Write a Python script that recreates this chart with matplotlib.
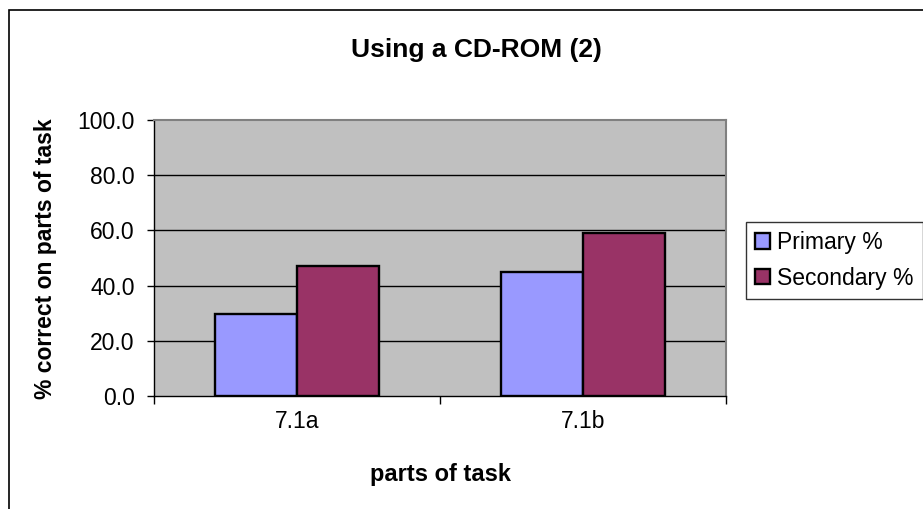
import numpy as np
import matplotlib.pyplot as plt
from matplotlib.patches import Rectangle

plt.rcParams['font.family'] = ['Liberation Sans', 'DejaVu Sans']

categories = ['7.1a', '7.1b']
primary = [29.8, 45.0]
secondary = [47.2, 58.9]
series_names = ['Primary %', 'Secondary %']

fig = plt.figure(figsize=(9.23, 5.09), dpi=100)
W, H = 923, 509
fs = 16.5

# outer chart border (right/bottom edges run off the canvas)
fig.patches.append(Rectangle((9 / W, -0.1), 1.2, 1 - 9.5 / H + 0.1, transform=fig.transFigure,
                             fill=False, edgecolor='black', linewidth=1.2))

ax = fig.add_axes([154 / W, 1 - 396 / H, 572 / W, 276 / H])
ax.set_facecolor('#c0c0c0')

x = np.arange(len(categories))
w = 1 / 3.5
ax.bar(x - w / 2, primary, w, color='#9999ff', edgecolor='black', linewidth=1.7,
       label=series_names[0], zorder=3)
ax.bar(x + w / 2, secondary, w, color='#993366', edgecolor='black', linewidth=1.7,
       label=series_names[1], zorder=3)

ax.set_xlim(-0.5, len(categories) - 0.5)
ax.set_ylim(0, 100)
ax.set_yticks(np.arange(0, 101, 20))
ax.set_yticklabels([f'{v:.1f}' for v in np.arange(0, 101, 20)])
ax.set_xticks(x)
ax.set_xticklabels(categories)
ax.set_xticks(np.arange(-0.5, len(categories), 1), minor=True)
ax.tick_params(axis='x', which='major', length=0, pad=10, labelsize=fs)
ax.tick_params(axis='x', which='minor', length=6, width=1, color='black')
ax.tick_params(axis='y', length=5, width=1, pad=9, labelsize=fs)

for y in [20, 40, 60, 80]:
    ax.axhline(y, color='black', linewidth=1, zorder=1)

for s in ['top', 'right']:
    ax.spines[s].set_color('#808080')
    ax.spines[s].set_linewidth(1.5)
for s in ['left', 'bottom']:
    ax.spines[s].set_color('black')
    ax.spines[s].set_linewidth(1)

ax.set_xlabel('parts of task', fontsize=17, fontweight='bold', va='center')
ax.xaxis.set_label_coords((441 - 154) / 572, (396 - 475) / 276)
ax.set_ylabel('% correct on parts of task', fontsize=fs, fontweight='bold', va='center')
ax.yaxis.set_label_coords((45 - 154) / 572, (396 - 259) / 276)
fig.text(476 / W, 1 - 50 / H, 'Using a CD-ROM (2)', ha='center', va='center',
         fontsize=19, fontweight='bold')

leg = fig.legend(loc='upper left', bbox_to_anchor=(746 / W, 1 - 222 / H), fontsize=fs,
                 frameon=True, fancybox=False, edgecolor='black', borderpad=0.4,
                 handlelength=0.65, handleheight=0.65, handletextpad=0.3, labelspacing=0.55,
                 borderaxespad=0)
leg.get_frame().set_linewidth(1)

fig.savefig('out.png', dpi=100)
